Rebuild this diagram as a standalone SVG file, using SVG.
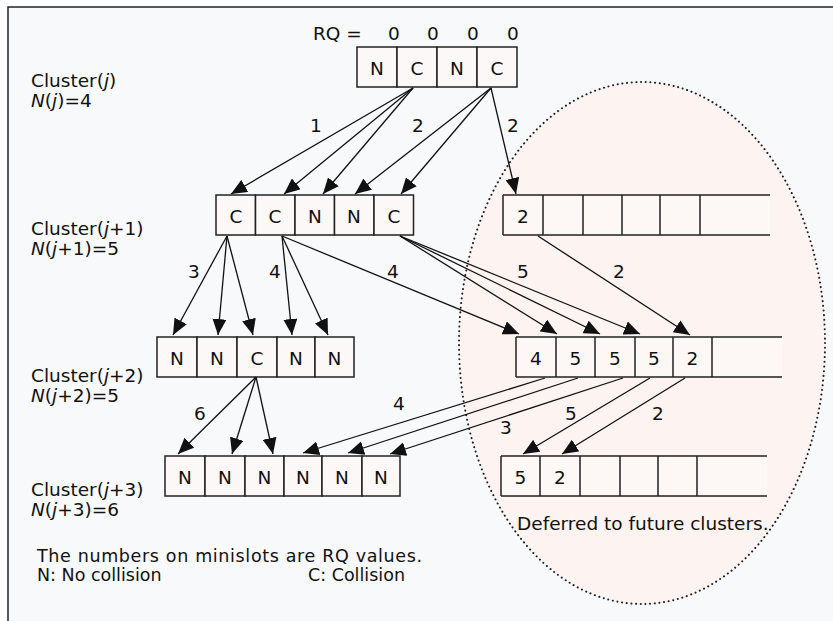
<svg xmlns="http://www.w3.org/2000/svg" width="833" height="621" viewBox="0 0 833 621">
<style>
.bg{fill:#f8f9fb}
.frame{stroke:#222;stroke-width:1.5;fill:none}
.cell{fill:#fcf8f7;stroke:#222;stroke-width:1.5}
.rowfill{fill:#fdf8f6}
.ln{stroke:#222;stroke-width:1.5;fill:none}
.t{font-family:"DejaVu Sans","Liberation Sans",sans-serif;font-size:18.5px;fill:#111}
.s{font-size:17.5px}
.c{text-anchor:middle}
.i{font-style:italic}
.ar{stroke:#111;stroke-width:1.3;fill:none;marker-end:url(#ah)}
.ell{fill:#fdf3f0;stroke:#222;stroke-width:2;stroke-dasharray:0.1 4.6;stroke-linecap:round}
</style>
<defs>
<marker id="ah" markerUnits="userSpaceOnUse" markerWidth="17" markerHeight="14" refX="16" refY="7" orient="auto"><path d="M0,0 L16,7 L0,14 z" fill="#111"/></marker>
</defs>
<rect x="0" y="0" width="833" height="621" fill="#ffffff"/>
<rect class="bg" x="8" y="7" width="825" height="614"/>
<path class="frame" d="M8,621 V7 H833"/>
<ellipse id="deferred-region" class="ell" cx="642" cy="343" rx="183" ry="261"/>

<g id="labels-left" class="t">
<text x="31" y="87">Cluster(<tspan class="i">j</tspan>)</text>
<text x="31" y="107"><tspan class="i">N</tspan>(<tspan class="i">j</tspan>)=4</text>
<text x="31" y="235">Cluster(<tspan class="i">j</tspan>+1)</text>
<text x="31" y="255"><tspan class="i">N</tspan>(<tspan class="i">j</tspan>+1)=5</text>
<text x="31" y="382">Cluster(<tspan class="i">j</tspan>+2)</text>
<text x="31" y="402"><tspan class="i">N</tspan>(<tspan class="i">j</tspan>+2)=5</text>
<text x="31" y="496">Cluster(<tspan class="i">j</tspan>+3)</text>
<text x="31" y="516"><tspan class="i">N</tspan>(<tspan class="i">j</tspan>+3)=6</text>
</g>

<g id="rq" class="t">
<text x="313" y="40">RQ =</text>
<text class="c" x="394" y="40">0</text>
<text class="c" x="433" y="40">0</text>
<text class="c" x="473" y="40">0</text>
<text class="c" x="513" y="40">0</text>
</g>

<g id="cluster-j">
<rect class="cell" x="357" y="47" width="40" height="40"/>
<rect class="cell" x="397" y="47" width="40" height="40"/>
<rect class="cell" x="437" y="47" width="40" height="40"/>
<rect class="cell" x="477" y="47" width="40" height="40"/>
<g class="t c"><text x="377" y="75">N</text><text x="417" y="75">C</text><text x="457" y="75">N</text><text x="497" y="75">C</text></g>
</g>

<g id="cluster-j1">
<rect class="cell" x="216" y="195" width="39.5" height="40"/>
<rect class="cell" x="255.5" y="195" width="39.5" height="40"/>
<rect class="cell" x="295" y="195" width="39.5" height="40"/>
<rect class="cell" x="334.5" y="195" width="39.5" height="40"/>
<rect class="cell" x="374" y="195" width="39.5" height="40"/>
<g class="t c"><text x="236" y="223">C</text><text x="275" y="223">C</text><text x="315" y="223">N</text><text x="354" y="223">N</text><text x="394" y="223">C</text></g>
</g>

<g id="deferred-j1">
<rect class="rowfill" x="503" y="195" width="267" height="40"/>
<path class="ln" d="M503,195 H770 M503,235 H770 M503,195 V235 M543,195 V235 M583,195 V235 M622,195 V235 M660,195 V235 M700,195 V235"/>
<text class="t c" x="523" y="223">2</text>
</g>

<g id="cluster-j2">
<rect class="cell" x="157" y="337" width="40" height="40"/>
<rect class="cell" x="197" y="337" width="40" height="40"/>
<rect class="cell" x="237" y="337" width="40" height="40"/>
<rect class="cell" x="277" y="337" width="38" height="40"/>
<rect class="cell" x="315" y="337" width="39" height="40"/>
<g class="t c"><text x="177" y="365">N</text><text x="217" y="365">N</text><text x="257" y="365">C</text><text x="296" y="365">N</text><text x="334.5" y="365">N</text></g>
</g>

<g id="deferred-j2">
<rect class="rowfill" x="516" y="337" width="266" height="40"/>
<path class="ln" d="M516,337 H782 M516,377 H782 M516,337 V377 M556,337 V377 M595,337 V377 M635,337 V377 M673,337 V377 M712,337 V377"/>
<g class="t c"><text x="536" y="365">4</text><text x="575.5" y="365">5</text><text x="615" y="365">5</text><text x="654" y="365">5</text><text x="692.5" y="365">2</text></g>
</g>

<g id="cluster-j3">
<rect class="cell" x="165" y="456" width="40" height="40"/>
<rect class="cell" x="205" y="456" width="40" height="40"/>
<rect class="cell" x="245" y="456" width="39" height="40"/>
<rect class="cell" x="284" y="456" width="38" height="40"/>
<rect class="cell" x="322" y="456" width="40" height="40"/>
<rect class="cell" x="362" y="456" width="38" height="40"/>
<g class="t c"><text x="185" y="484">N</text><text x="225" y="484">N</text><text x="264.5" y="484">N</text><text x="303" y="484">N</text><text x="342" y="484">N</text><text x="381" y="484">N</text></g>
</g>

<g id="deferred-j3">
<rect class="rowfill" x="501" y="456" width="266" height="40"/>
<path class="ln" d="M501,456 H767 M501,496 H767 M501,456 V496 M540,456 V496 M580,456 V496 M620,456 V496 M658,456 V496 M697,456 V496"/>
<g class="t c"><text x="520.5" y="484">5</text><text x="560" y="484">2</text></g>
</g>

<g id="connectors">
<line class="ar" x1="413" y1="88" x2="231" y2="194"/>
<line class="ar" x1="413" y1="88" x2="284" y2="194"/>
<line class="ar" x1="413" y1="88" x2="323" y2="194"/>
<line class="ar" x1="491" y1="88" x2="355" y2="194"/>
<line class="ar" x1="491" y1="88" x2="401" y2="194"/>
<line class="ar" x1="491" y1="88" x2="516" y2="194"/>

<line class="ar" x1="227" y1="236" x2="173" y2="335"/>
<line class="ar" x1="227" y1="236" x2="218" y2="335"/>
<line class="ar" x1="227" y1="236" x2="253" y2="335"/>
<line class="ar" x1="282" y1="236" x2="292" y2="335"/>
<line class="ar" x1="282" y1="236" x2="328" y2="335"/>
<line class="ar" x1="282" y1="236" x2="519" y2="334"/>
<line class="ar" x1="400" y1="236" x2="557" y2="334"/>
<line class="ar" x1="400" y1="236" x2="600" y2="334"/>
<line class="ar" x1="400" y1="236" x2="640" y2="334"/>
<line class="ar" x1="538" y1="236" x2="690" y2="335"/>

<line class="ar" x1="256" y1="377" x2="178" y2="454"/>
<line class="ar" x1="256" y1="377" x2="232" y2="454"/>
<line class="ar" x1="256" y1="377" x2="273" y2="454"/>

<line class="ar" x1="545" y1="378" x2="303" y2="453"/>
<line class="ar" x1="578" y1="378" x2="348" y2="453"/>
<line class="ar" x1="623" y1="378" x2="390" y2="454"/>
<line class="ar" x1="650" y1="378" x2="523" y2="454"/>
<line class="ar" x1="685" y1="378" x2="562" y2="454"/>
</g>

<g id="connector-labels" class="t c">
<text x="316" y="132">1</text>
<text x="418" y="132">2</text>
<text x="513" y="132">2</text>
<text x="194" y="278">3</text>
<text x="275" y="278">4</text>
<text x="393" y="278">4</text>
<text x="523" y="278">5</text>
<text x="619" y="278">2</text>
<text x="200" y="420">6</text>
<text x="399" y="410">4</text>
<text x="506" y="434">3</text>
<text x="571" y="420">5</text>
<text x="658" y="420">2</text>
</g>

<g id="notes" class="t">
<text x="517" y="530">Deferred to future clusters.</text>
<text class="s" x="37" y="562" textLength="385" lengthAdjust="spacing">The numbers on minislots are RQ values.</text>
<text class="s" x="37" y="581">N: No collision</text>
<text class="s" x="308" y="581">C: Collision</text>
</g>
</svg>
